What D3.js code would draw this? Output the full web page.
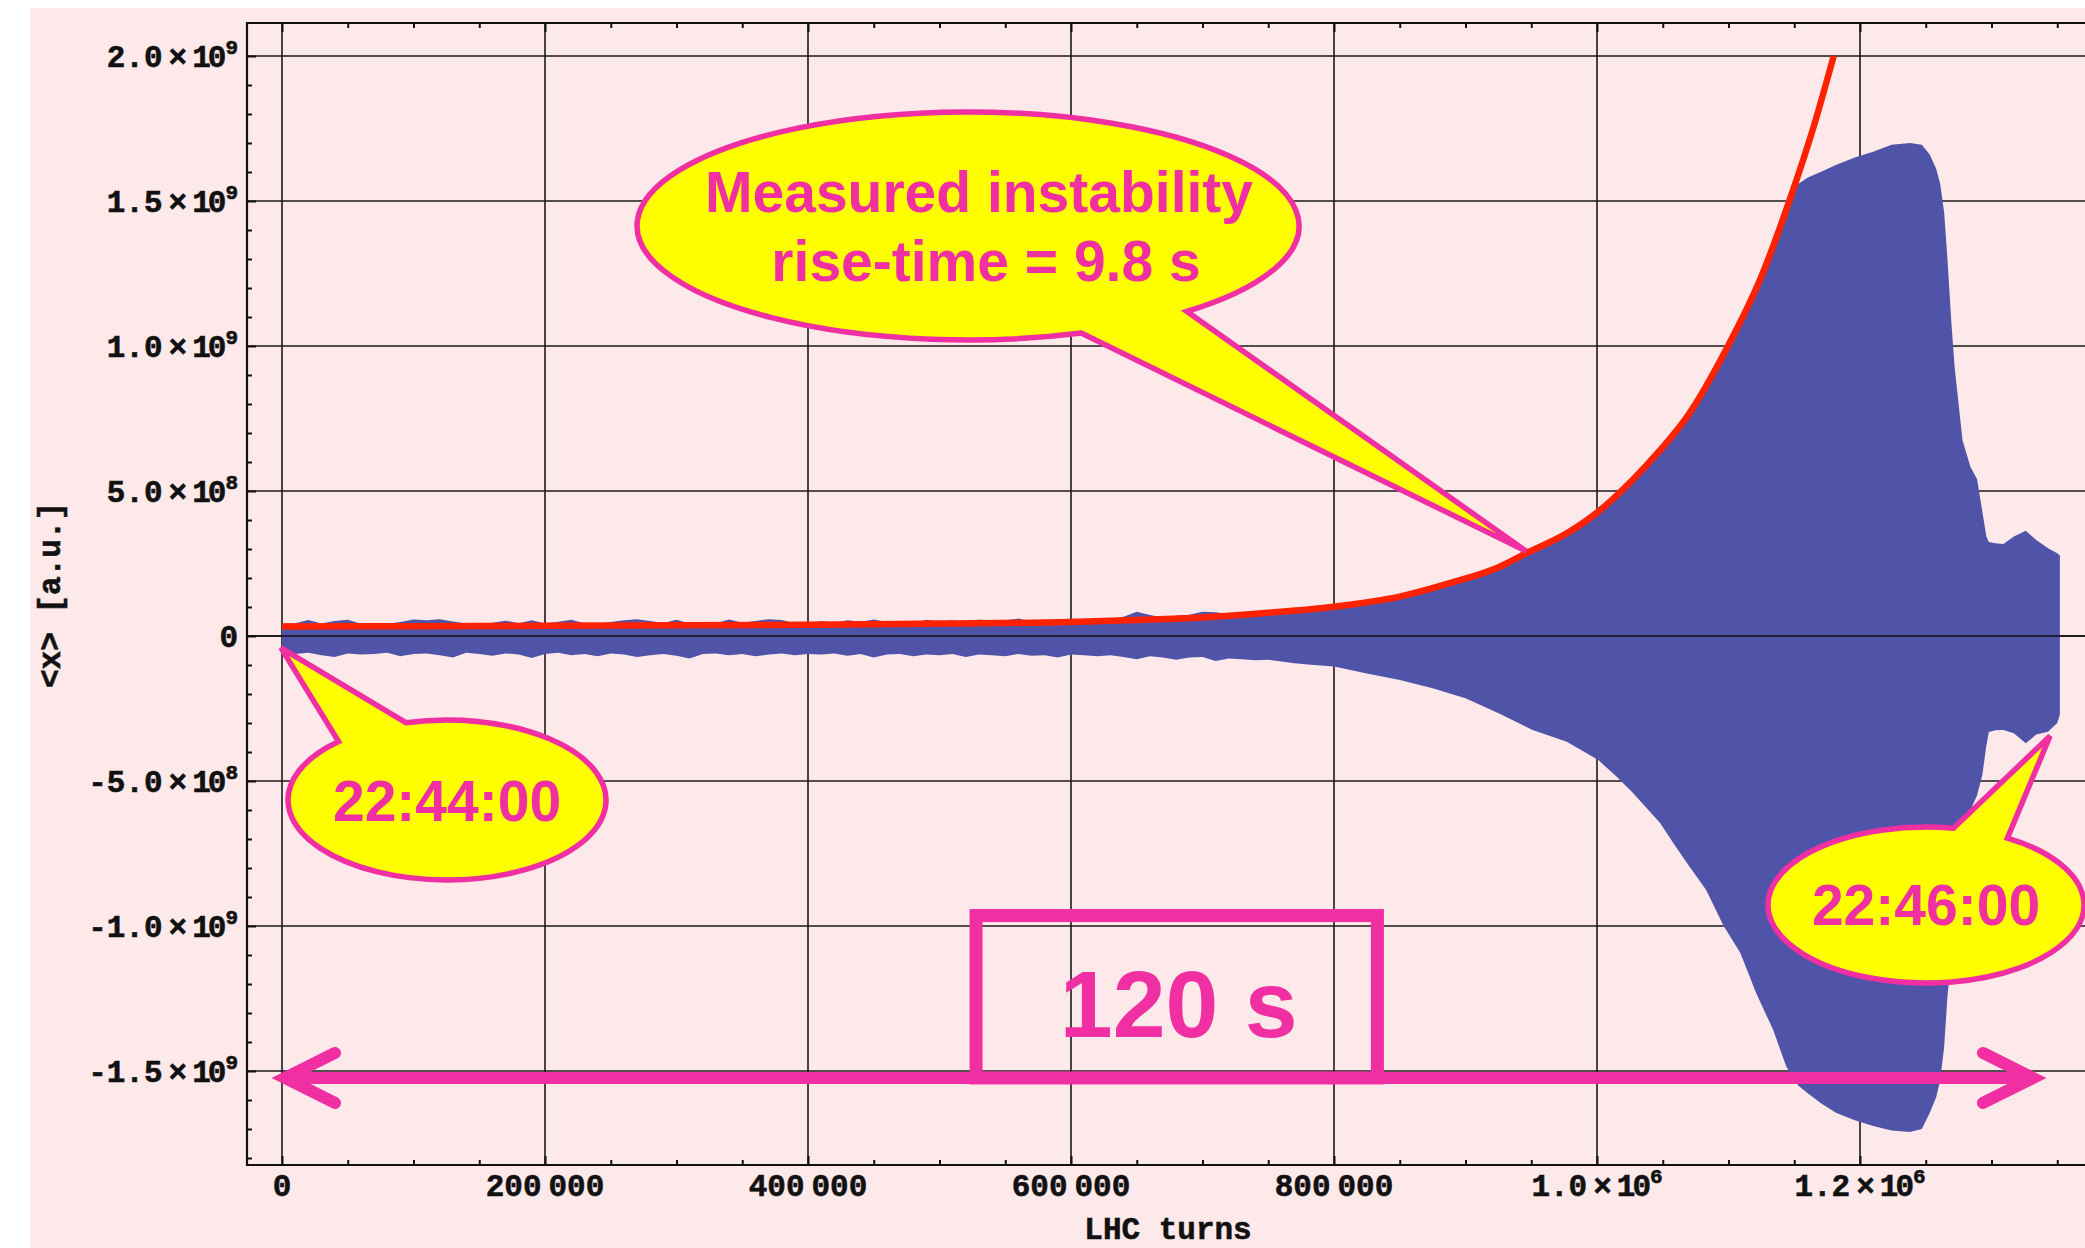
<!DOCTYPE html>
<meta charset="utf-8">
<head>
<style>
  body { margin:0; background:#fff; }
  svg { display:block; }
</style>
<script src="https://d3js.org/d3.v7.min.js"></script>
</head>
<body>
<svg id="chart"></svg>
<script>
// envelope of the measured <x> signal: turns in thousands, values in units of 1e8
var envTurns = [0,10,20,30,40,50,60,70,80,90,
  100,110,120,130,140,150,160,170,180,190,
  200,210,220,230,240,250,260,270,280,290,
  300,310,320,330,340,350,360,370,380,390,
  400,410,420,430,440,450,460,470,480,490,
  500,510,520,530,540,550,560,570,580,590,
  600,610,620,630,640,650,660,670,680,690,
  700,710,720,730,740,750,760,770,780,790,
  800,825,850,875,900,926,951,977,1001,1015,
  1027,1048,1058,1068,1083,1096,1109,1121,1134,1144,
  1153,1160,1170,1182,1196,1210,1224,1238,1247,1253,
  1258,1261,1264,1266.5,1269.5,1272,1278,1284,1289,1293,
  1296,1298,1303,1309,1317,1326,1334,1343,1350,1352]

var envUpper = [0.42,0.44,0.55,0.43,0.52,0.56,0.42,0.44,0.42,0.48,
  0.57,0.54,0.58,0.50,0.43,0.42,0.46,0.53,0.44,0.54,
  0.43,0.49,0.56,0.44,0.42,0.48,0.54,0.58,0.52,0.45,
  0.56,0.43,0.48,0.44,0.57,0.46,0.52,0.58,0.55,0.44,
  0.43,0.52,0.46,0.54,0.49,0.57,0.48,0.52,0.45,0.56,
  0.50,0.54,0.48,0.57,0.52,0.54,0.60,0.50,0.56,0.53,
  0.60,0.55,0.57,0.59,0.66,0.84,0.72,0.64,0.70,0.73,
  0.84,0.82,0.75,0.79,0.83,0.88,0.91,0.93,0.96,0.98,
  1.00,1.15,1.33,1.62,1.95,2.36,2.95,3.52,4.26,4.80,
  5.35,6.38,6.95,7.50,8.60,9.65,10.85,12.0,13.4,14.6,
  15.59,15.8,16.0,16.25,16.5,16.7,16.94,17.0,16.94,16.6,
  16.1,15.59,14.6,13.0,10.8,9.25,6.74,5.83,5.41,4.3,
  3.45,3.24,3.2,3.17,3.43,3.63,3.31,3.03,2.85,2.78]

var envLower = [-0.55,-0.62,-0.58,-0.66,-0.72,-0.60,-0.64,-0.62,-0.58,-0.70,
  -0.62,-0.60,-0.66,-0.74,-0.58,-0.62,-0.68,-0.60,-0.64,-0.76,
  -0.62,-0.58,-0.66,-0.62,-0.70,-0.60,-0.64,-0.72,-0.66,-0.62,
  -0.68,-0.78,-0.62,-0.60,-0.66,-0.62,-0.70,-0.64,-0.60,-0.66,
  -0.62,-0.64,-0.60,-0.68,-0.62,-0.74,-0.64,-0.62,-0.70,-0.64,
  -0.66,-0.62,-0.72,-0.64,-0.66,-0.70,-0.62,-0.68,-0.66,-0.74,
  -0.64,-0.66,-0.70,-0.66,-0.72,-0.80,-0.70,-0.74,-0.82,-0.74,
  -0.72,-0.86,-0.78,-0.80,-0.84,-0.82,-0.88,-0.94,-0.98,-1.02,
  -1.05,-1.29,-1.52,-1.80,-2.15,-2.68,-3.24,-3.65,-4.28,-4.85,
  -5.40,-6.45,-7.14,-7.80,-8.76,-9.97,-10.93,-12.31,-13.59,-14.85,
  -15.50,-15.76,-16.1,-16.45,-16.7,-16.9,-17.05,-17.1,-17.0,-16.45,
  -15.9,-15.31,-14.16,-12.44,-11.0,-9.5,-7.4,-6.0,-5.5,-4.8,
  -3.8,-3.31,-3.25,-3.24,-3.35,-3.7,-3.4,-3.3,-3.0,-2.71]

// fitted exponential (red)
var fitTurns = [0,100,200,300,400,500,600,650,700,750,800,850,888,926,946,977,1001,1027,1048,1068,1099,1125,1146,1165,1180]
var fitValues = [0.33,0.34,0.35,0.37,0.39,0.43,0.48,0.55,0.64,0.80,1.01,1.36,1.82,2.39,2.85,3.54,4.29,5.38,6.41,7.53,9.95,12.4,14.97,17.6,20.0]

var xTicks = [0, 200000, 400000, 600000, 800000, 1000000, 1200000]
var yTicks = [-1.5e9, -1e9, -5e8, 0, 5e8, 1e9, 1.5e9, 2e9]

var W = 2085, H = 1248
var leftX = 247, topY = 23, bottomY = 1165, rightX = W
var mono = '"Liberation Mono", "Courier New", monospace'
var sans = '"Liberation Sans", Arial, sans-serif'
var magenta = '#ef2fa2'

var svg = d3.select('#chart').attr('width', W).attr('height', H)

svg.append('rect').attr('x', 30).attr('y', 8).attr('width', W - 30).attr('height', H - 8)
  .attr('fill', '#fde9ea')

var x = d3.scaleLinear().domain([0, 1200000]).range([282, 1860])
var y = d3.scaleLinear().domain([-1.5e9, 2e9]).range([1071, 56])

// grid
var grid = svg.append('g').attr('stroke', '#1a1a1a').attr('stroke-width', 1.6)
grid.selectAll('line.v').data(xTicks).enter().append('line').attr('class', 'v')
  .attr('x1', d => x(d)).attr('x2', d => x(d)).attr('y1', topY).attr('y2', bottomY)
grid.selectAll('line.h').data(yTicks).enter().append('line').attr('class', 'h')
  .attr('x1', leftX).attr('x2', rightX).attr('y1', d => y(d)).attr('y2', d => y(d))

svg.append('clipPath').attr('id', 'clip').append('rect')
  .attr('x', leftX).attr('y', topY).attr('width', rightX - leftX).attr('height', bottomY - topY)
var plot = svg.append('g').attr('clip-path', 'url(#clip)')

var env = envTurns.map((t, i) => ({ t: t * 1000, hi: envUpper[i] * 1e8, lo: envLower[i] * 1e8 }))
var area = d3.area().x(d => x(d.t)).y0(d => y(d.lo)).y1(d => y(d.hi))
plot.append('path').datum(env).attr('d', area).attr('fill', '#5054a8')

// zero axis sits on top of the signal
plot.append('line').attr('x1', leftX).attr('x2', rightX).attr('y1', y(0)).attr('y2', y(0))
  .attr('stroke', '#111').attr('stroke-width', 1.6)

var fit = fitTurns.map((t, i) => ({ t: t * 1000, v: fitValues[i] * 1e8 }))
var line = d3.line().x(d => x(d.t)).y(d => y(d.v)).curve(d3.curveMonotoneX)
plot.append('path').datum(fit).attr('d', line).attr('fill', 'none')
  .attr('stroke', '#ff2200').attr('stroke-width', 6.5)

// frame ticks
var minorX = d3.range(50000, 1400000, 50000).filter(d => d % 200000 !== 0)
var majorX = xTicks.concat([1400000])
var minorY = d3.range(-18, 21, 1).filter(d => d % 5 !== 0).map(d => d * 1e8)

function frameAxis(axis, tr) {
  svg.append('g').attr('transform', tr).call(axis)
    .call(g => g.select('.domain').remove())
    .call(g => g.selectAll('line').attr('stroke', '#111').attr('stroke-width', 2))
}
frameAxis(d3.axisBottom(x).tickValues(majorX).tickSize(-9).tickFormat(''), 'translate(0,' + bottomY + ')')
frameAxis(d3.axisBottom(x).tickValues(minorX).tickSize(-5).tickFormat(''), 'translate(0,' + bottomY + ')')
frameAxis(d3.axisTop(x).tickValues(majorX).tickSize(-9).tickFormat(''), 'translate(0,' + topY + ')')
frameAxis(d3.axisTop(x).tickValues(minorX).tickSize(-5).tickFormat(''), 'translate(0,' + topY + ')')
frameAxis(d3.axisLeft(y).tickValues(yTicks).tickSize(-9).tickFormat(''), 'translate(' + leftX + ',0)')
frameAxis(d3.axisLeft(y).tickValues(minorY).tickSize(-5).tickFormat(''), 'translate(' + leftX + ',0)')

var frame = svg.append('g').attr('stroke', '#111').attr('stroke-width', 2.2)
frame.append('line').attr('x1', leftX).attr('x2', leftX).attr('y1', topY - 1).attr('y2', bottomY + 1)
frame.append('line').attr('x1', leftX).attr('x2', rightX).attr('y1', topY).attr('y2', topY)
frame.append('line').attr('x1', leftX).attr('x2', rightX).attr('y1', bottomY).attr('y2', bottomY)

// Mathematica-style tick labels
function tickLabel(sel, v) {
  if (v === 0) { sel.text('0'); return }
  var e = Math.floor(Math.log10(Math.abs(v)))
  if (Math.abs(v) < 1e6 && v > 0) {
    var s = String(v)
    sel.append('tspan').text(s.slice(0, s.length - 3))
    sel.append('tspan').attr('dx', 7).text(s.slice(-3))
    return
  }
  var m = (v / Math.pow(10, e)).toFixed(1)
  sel.append('tspan').text(m)
  sel.append('tspan').attr('dx', 6).text('\u00d7')
  sel.append('tspan').attr('dx', 5).attr('letter-spacing', -3).text('10')
  sel.append('tspan').attr('dx', 2).attr('dy', -13).attr('font-size', 21).text(e)
}

var labels = svg.append('g').attr('font-family', mono).attr('font-weight', 'bold')
  .attr('font-size', 31).attr('fill', '#111').attr('stroke', '#111').attr('stroke-width', 0.6)
labels.selectAll('text.x').data(xTicks).enter().append('text').attr('class', 'x')
  .attr('x', d => x(d)).attr('y', 1196).attr('text-anchor', 'middle')
  .each(function (d) { tickLabel(d3.select(this), d) })
labels.selectAll('text.y').data(yTicks).enter().append('text').attr('class', 'y')
  .attr('x', 238).attr('y', d => y(d) + 11).attr('text-anchor', 'end')
  .each(function (d) { tickLabel(d3.select(this), d) })

labels.append('text').attr('x', 1168).attr('y', 1239).attr('text-anchor', 'middle').text('LHC turns')
labels.append('text').attr('transform', 'translate(60,595) rotate(-90)').attr('text-anchor', 'middle')
  .text('<x> [a.u.]')

// callouts: ellipse with a pointed tail, tail anchored on the data
function callout(c) {
  var cx = x(c.t), cy = y(c.v)
  var p = a => [cx + c.rx * Math.cos(a * Math.PI / 180), cy + c.ry * Math.sin(a * Math.PI / 180)]
  var p1 = p(c.a1), p2 = p(c.a2), tip = [x(c.tipT), y(c.tipV)]
  var d = 'M' + p2 + 'L' + tip + 'L' + p1 + 'A' + c.rx + ',' + c.ry + ' 0 1 0 ' + p2 + 'Z'
  var g = svg.append('g')
  g.append('path').attr('d', d).attr('fill', '#ffff00').attr('stroke', magenta)
    .attr('stroke-width', 5.5).attr('stroke-linejoin', 'miter')
  c.lines.forEach(function (l) {
    g.append('text').attr('x', cx + l.dx).attr('y', cy + l.dy).attr('text-anchor', 'middle')
      .attr('font-family', sans).attr('font-weight', 'bold').attr('font-size', c.size)
      .attr('fill', magenta).text(l.text)
  })
}

callout({ t: 521700, v: 1.414e9, rx: 331, ry: 114, a1: 48.6, a2: 70, tipT: 946000, tipV: 2.93e8, size: 57,
  lines: [{ text: 'Measured instability', dx: 11, dy: -14 }, { text: 'rise-time = 9.8 s', dx: 18, dy: 55 }] })
callout({ t: 125500, v: -5.655e8, rx: 159, ry: 80, a1: -133, a2: -105, tipT: -800, tipV: -4.1e7, size: 57,
  lines: [{ text: '22:44:00', dx: 0, dy: 21 }] })
callout({ t: 1250200, v: -9.276e8, rx: 158, ry: 78, a1: -80, a2: -59, tipT: 1344500, tipV: -3.45e8, size: 57,
  lines: [{ text: '22:46:00', dx: 0, dy: 20 }] })

// 120 s span
var spanY = y(-1.524e9)
var bx0 = x(527800), bx1 = x(833000), by0 = y(-9.64e8)
svg.append('rect').attr('x', bx0).attr('y', by0).attr('width', bx1 - bx0).attr('height', spanY - by0)
  .attr('fill', 'none').attr('stroke', magenta).attr('stroke-width', 13)
svg.append('text').attr('x', (bx0 + bx1) / 2 + 2).attr('y', 1037).attr('text-anchor', 'middle')
  .attr('font-family', sans).attr('font-weight', 'bold').attr('font-size', 95).attr('fill', magenta)
  .text('120 s')

var ax0 = x(-7600) + 13, ax1 = x(1341400) - 13
var arrow = 'M' + ax0 + ',' + spanY + 'L' + ax1 + ',' + spanY +
  'M' + (ax0 + 50) + ',' + (spanY - 25) + 'L' + ax0 + ',' + spanY + 'L' + (ax0 + 50) + ',' + (spanY + 25) +
  'M' + (ax1 - 50) + ',' + (spanY - 25) + 'L' + ax1 + ',' + spanY + 'L' + (ax1 - 50) + ',' + (spanY + 25)
svg.append('path').attr('d', arrow).attr('fill', 'none').attr('stroke', magenta)
  .attr('stroke-width', 12).attr('stroke-linecap', 'round').attr('stroke-linejoin', 'miter')
</script>
</body>
